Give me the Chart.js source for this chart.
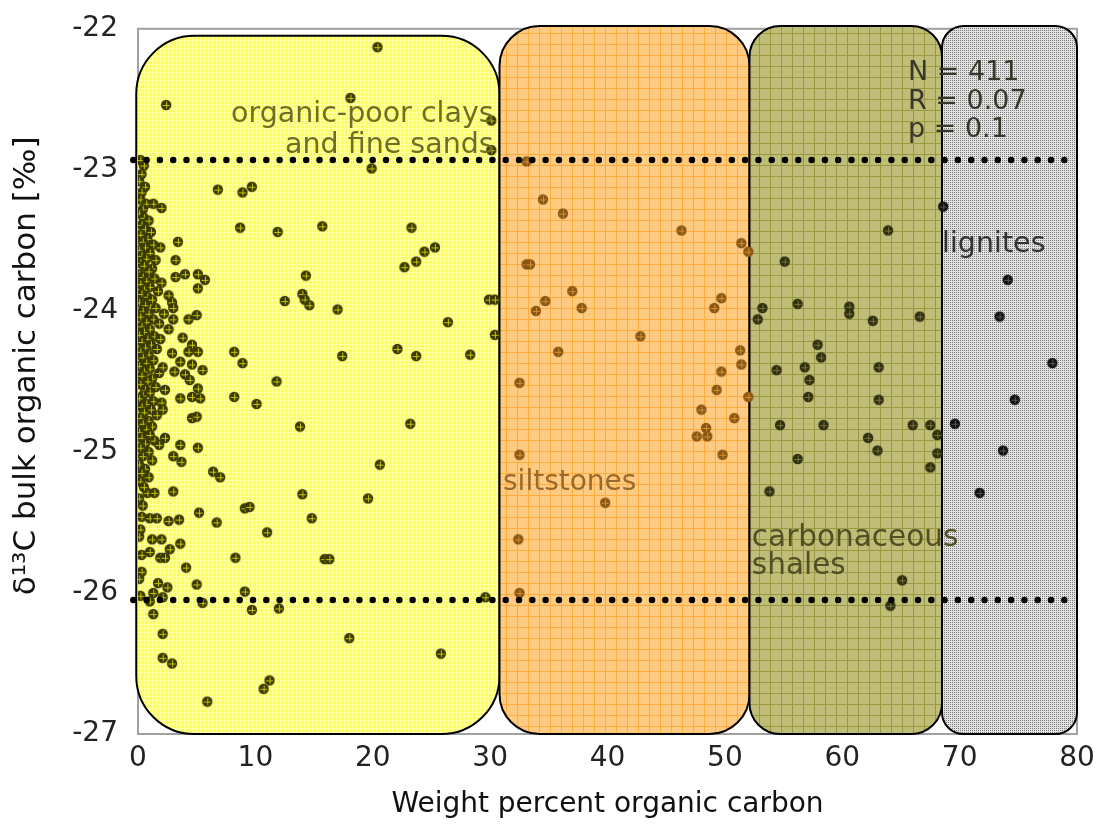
<!DOCTYPE html>
<html>
<head>
<meta charset="utf-8">
<script src="https://cdn.jsdelivr.net/npm/chart.js@4.4.1/dist/chart.umd.min.js"></script>
<style>
html, body { margin: 0; padding: 0; background: #fff; }
#wrap { width: 1105px; height: 825px; }
</style>
</head>
<body>
<div id="wrap"><canvas id="chart"></canvas></div>
<script>
// tick labels
var X_TICKS = [0, 10, 20, 30, 40, 50, 60, 70, 80];
var Y_TICKS = [-27, -26, -25, -24, -23, -22];

// lithology boxes: [xFrom, xTo, yTop]
var BOX_EDGES = [-0.15, 30.8, 52.1, 68.5, 80];
var BOX_TOPS = [-22.05, -21.98, -21.98, -21.98];
var BOX_BOTTOM = -27.0;

// dotted reference lines
var DOT_X = [-0.4, 79.8];
var DOT_Y = [-22.93, -26.05];

// organic-poor clays and fine sands  [wt% C, d13C]
var clays = [
  [20.4,-22.13],[2.4,-22.54],[18.1,-22.49],[30.1,-22.65],[30.1,-22.86],[19.9,-22.99],
  [6.8,-23.14],[8.9,-23.16],[9.7,-23.12],[1.3,-23.24],[2.0,-23.27],
  [8.7,-23.41],[11.9,-23.44],[15.7,-23.40],[23.3,-23.41],
  [25.3,-23.55],[24.4,-23.58],[23.7,-23.65],[22.7,-23.69],
  [3.4,-23.51],[3.2,-23.64],[3.2,-23.76],[4.0,-23.74],[5.1,-23.74],[5.7,-23.78],[5.1,-23.84],
  [14.3,-23.75],[2.6,-23.89],[2.9,-23.94],[3.0,-23.98],
  [12.5,-23.93],[14.0,-23.88],[14.2,-23.92],[14.6,-23.96],[17.0,-23.99],
  [29.9,-23.92],[30.4,-23.92],[26.4,-24.08],[30.4,-24.17],
  [3.0,-24.06],[2.6,-24.13],[4.3,-24.06],[5.0,-24.03],
  [3.8,-24.19],[4.6,-24.24],[5.1,-24.29],[4.3,-24.29],[3.6,-24.36],[4.6,-24.38],[5.5,-24.42],
  [2.9,-24.30],[3.1,-24.43],[4.0,-24.45],[4.4,-24.49],[2.3,-24.56],[5.1,-24.55],[4.6,-24.61],
  [3.6,-24.62],[5.3,-24.62],
  [8.2,-24.29],[8.9,-24.37],[17.4,-24.32],[22.1,-24.27],[23.7,-24.32],[28.3,-24.31],
  [11.8,-24.50],[8.2,-24.61],[10.1,-24.66],[13.8,-24.82],[23.2,-24.80],
  [4.6,-24.76],[5.0,-24.75],[2.3,-24.90],[3.6,-24.95],[5.1,-24.97],
  [3.0,-25.03],[3.7,-25.07],[6.4,-25.14],[7.0,-25.18],[20.6,-25.09],
  [3.0,-25.28],[0.8,-25.29],[1.4,-25.29],[14.0,-25.30],[19.6,-25.33],
  [5.2,-25.43],[9.1,-25.40],[9.5,-25.39],[14.8,-25.47],
  [0.3,-25.46],[1.0,-25.47],[1.6,-25.47],[2.6,-25.49],[3.5,-25.48],[6.7,-25.50],
  [11.0,-25.57],[1.2,-25.62],[2.0,-25.62],[3.6,-25.65],[2.7,-25.69],
  [0.3,-25.73],[1.0,-25.71],[1.9,-25.75],[2.3,-25.75],[8.3,-25.75],[15.9,-25.76],[16.3,-25.76],
  [4.1,-25.82],[1.7,-25.93],[2.5,-25.96],[1.3,-26.00],[5.0,-25.94],[9.1,-25.99],[29.6,-26.03],
  [1.0,-26.06],[2.1,-26.03],[5.5,-26.07],[1.3,-26.15],[9.7,-26.12],[12.0,-26.11],
  [2.1,-26.29],[18.0,-26.32],[25.8,-26.43],[2.1,-26.46],[2.9,-26.50],[11.2,-26.62],
  [10.7,-26.68],[5.9,-26.77],
  // dense column near 0-2 wt%
  [0.2,-22.93],[0.5,-22.97],[0.3,-23.03],[0.1,-23.08],[0.6,-23.12],[0.3,-23.16],[0.2,-23.21],
  [0.7,-23.24],[0.4,-23.28],[0.1,-23.31],[0.5,-23.34],[0.9,-23.36],[0.3,-23.39],[0.6,-23.42],
  [1.1,-23.44],[0.2,-23.46],[0.8,-23.49],[0.4,-23.51],[1.3,-23.53],[0.6,-23.55],[0.1,-23.57],
  [1.0,-23.59],[0.3,-23.61],[0.7,-23.63],[1.5,-23.64],[0.2,-23.66],[0.5,-23.68],[1.2,-23.70],
  [0.9,-23.72],[0.1,-23.74],[0.4,-23.76],[1.4,-23.77],[0.7,-23.79],[0.2,-23.81],[1.0,-23.83],
  [0.5,-23.85],[1.7,-23.86],[0.3,-23.88],[0.8,-23.90],[1.2,-23.92],[0.1,-23.94],[0.6,-23.96],
  [1.5,-23.98],[0.4,-24.00],[0.9,-24.02],[0.2,-24.04],[1.3,-24.06],[0.7,-24.08],[1.8,-24.09],
  [0.3,-24.11],[1.0,-24.13],[0.5,-24.15],[0.1,-24.17],[1.4,-24.18],[0.8,-24.20],[0.3,-24.22],
  [1.1,-24.24],[0.6,-24.26],[1.6,-24.27],[0.2,-24.29],[0.9,-24.31],[0.4,-24.33],[1.3,-24.35],
  [0.7,-24.37],[0.1,-24.39],[1.0,-24.41],[0.5,-24.43],[1.8,-24.44],[0.3,-24.46],[1.2,-24.48],
  [0.8,-24.50],[0.2,-24.52],[1.5,-24.54],[0.6,-24.56],[1.0,-24.58],[0.4,-24.60],[0.1,-24.62],
  [1.3,-24.64],[0.7,-24.66],[0.3,-24.68],[1.1,-24.70],[0.5,-24.72],[1.6,-24.74],[0.2,-24.76],
  [0.9,-24.78],[0.4,-24.80],[1.2,-24.82],[0.7,-24.84],[0.1,-24.86],[1.0,-24.88],[0.3,-24.90],
  [1.4,-24.92],[0.6,-24.94],[0.2,-24.97],[0.9,-25.00],[0.4,-25.03],[1.2,-25.06],[0.1,-25.09],
  [0.6,-25.12],[0.3,-25.15],[0.9,-25.18],[0.2,-25.21],[0.5,-25.25],[0.1,-25.33],[0.4,-25.38],
  [0.2,-25.55],[0.1,-25.60],[0.3,-25.85],[0.1,-25.90],[0.2,-26.02],
  [1.9,-23.55],[2.0,-23.80],[2.2,-24.02],[1.9,-24.20],[2.1,-24.40],[2.0,-24.65],[1.8,-24.95],[2.1,-24.70]
];

// siltstones
var silts = [
  [33.1,-22.94],[34.5,-23.21],[36.2,-23.31],[46.3,-23.43],[51.4,-23.52],[52.0,-23.58],
  [33.1,-23.67],[33.4,-23.67],[37.0,-23.86],[34.7,-23.93],[33.9,-24.00],[37.8,-23.98],
  [49.7,-23.91],[49.1,-23.98],[42.8,-24.18],[35.8,-24.29],[51.3,-24.28],[51.4,-24.38],
  [32.5,-24.51],[49.7,-24.43],[49.3,-24.56],[52.0,-24.61],[48.0,-24.70],[50.8,-24.76],
  [48.4,-24.83],[47.6,-24.89],[48.5,-24.89],[32.5,-25.02],[49.8,-25.02],[39.8,-25.36],
  [32.4,-25.62],[32.5,-26.00]
];

// carbonaceous shales
var shales = [
  [63.9,-23.43],[55.1,-23.65],[53.2,-23.98],[52.8,-24.06],[56.2,-23.95],[60.6,-23.97],
  [60.6,-24.02],[62.6,-24.07],[66.6,-24.04],[57.9,-24.24],[58.2,-24.33],[54.4,-24.42],
  [56.8,-24.40],[57.2,-24.49],[63.1,-24.40],[57.1,-24.61],[63.1,-24.63],[54.7,-24.81],
  [58.4,-24.81],[66.0,-24.81],[67.5,-24.81],[68.1,-24.88],[62.2,-24.90],[63.0,-24.99],
  [68.1,-25.01],[56.2,-25.05],[67.5,-25.11],[53.8,-25.28],[65.1,-25.91],[64.1,-26.09]
];

// lignites
var lignites = [
  [68.6,-23.26],[74.1,-23.78],[73.4,-24.04],[77.9,-24.37],[74.7,-24.63],[69.6,-24.80],
  [73.7,-24.99],[71.7,-25.29]
];

var LABELS = [
  { text: 'organic-poor clays', x: 30.3, y: -22.61, align: 'right', color: '#6f6f22', size: 28.5 },
  { text: 'and fine sands', x: 30.3, y: -22.83, align: 'right', color: '#6f6f22', size: 28.5 },
  { text: 'siltstones', x: 31.1, y: -25.22, align: 'left', color: '#9a6a2c', size: 28 },
  { text: 'carbonaceous', x: 52.3, y: -25.61, align: 'left', color: '#505024', size: 29.5 },
  { text: 'shales', x: 52.3, y: -25.81, align: 'left', color: '#505024', size: 29.5 },
  { text: 'lignites', x: 68.5, y: -23.53, align: 'left', color: '#333333', size: 28.5 },
  { text: 'N = 411', x: 65.6, y: -22.31, align: 'left', color: '#38382a', size: 27 },
  { text: 'R = 0.07', x: 65.6, y: -22.52, align: 'left', color: '#38382a', size: 27 },
  { text: 'p = 0.1', x: 65.6, y: -22.72, align: 'left', color: '#38382a', size: 27 }
];

function toPoints(arr) {
  return arr.map(function(p) { return { x: p[0], y: p[1] }; });
}

function makeMarker(fill, cross) {
  var c = document.createElement('canvas');
  c.width = 12; c.height = 12;
  var g = c.getContext('2d');
  g.fillStyle = fill;
  g.beginPath(); g.arc(6, 6, 5.2, 0, 2 * Math.PI); g.fill();
  g.strokeStyle = cross; g.lineWidth = 1;
  g.beginPath();
  g.moveTo(6.5, 2.5); g.lineTo(6.5, 9.5);
  g.moveTo(2.5, 6.5); g.lineTo(9.5, 6.5);
  g.stroke();
  return c;
}

function makePattern(ctx, size, bg, fg, grid) {
  var c = document.createElement('canvas');
  c.width = size; c.height = size;
  var g = c.getContext('2d');
  g.fillStyle = bg; g.fillRect(0, 0, size, size);
  g.fillStyle = fg;
  if (grid) {
    g.fillRect(0, 0, size, 1);
    g.fillRect(0, 0, 1, size);
  } else {
    g.fillRect(0, 0, 1, 1);
  }
  return ctx.createPattern(c, 'repeat');
}

var lithoPlugin = {
  id: 'litho',
  beforeDatasetsDraw: function(chart) {
    var ctx = chart.ctx, a = chart.chartArea;
    var xs = chart.scales.x, ys = chart.scales.y;
    var fills = [
      makePattern(ctx, 4, '#ffff50', '#ffffa8', true),
      makePattern(ctx, 11, '#ffcb82', '#ffac3c', true),
      makePattern(ctx, 11, '#c0bd78', '#9a9840', true),
      makePattern(ctx, 2, '#e2e2e2', '#7a7a7a', false)
    ];
    ctx.save();
    // frame
    ctx.strokeStyle = '#a0a0a0';
    ctx.lineWidth = 2;
    ctx.strokeRect(a.left, a.top, a.right - a.left, a.bottom - a.top);
    for (var i = 0; i < 4; i++) {
      var l = xs.getPixelForValue(BOX_EDGES[i]);
      var r = xs.getPixelForValue(BOX_EDGES[i + 1]);
      var t = ys.getPixelForValue(BOX_TOPS[i]);
      var b = ys.getPixelForValue(BOX_BOTTOM);
      var rad = (r - l) * 0.16;
      ctx.beginPath();
      ctx.roundRect(l, t, r - l, b - t, rad);
      ctx.fillStyle = fills[i];
      ctx.fill();
      ctx.strokeStyle = '#000';
      ctx.lineWidth = 2;
      ctx.stroke();
    }
    ctx.restore();
  },
  afterDatasetsDraw: function(chart) {
    var ctx = chart.ctx;
    var xs = chart.scales.x, ys = chart.scales.y;
    ctx.save();
    ctx.textBaseline = 'middle';
    LABELS.forEach(function(lb) {
      ctx.font = lb.size + 'px "DejaVu Sans"';
      ctx.fillStyle = lb.color;
      ctx.textAlign = lb.align;
      ctx.fillText(lb.text, xs.getPixelForValue(lb.x), ys.getPixelForValue(lb.y));
    });
    ctx.restore();
  }
};

var dotStyle = {
  showLine: true,
  pointRadius: 0,
  borderColor: '#000',
  borderWidth: 6.5,
  borderDash: [0, 13.3],
  borderCapStyle: 'round',
  clip: false
};

var ctx = document.getElementById('chart');
var chart = new Chart(ctx, {
  type: 'scatter',
  data: {
    datasets: [
      Object.assign({ label: 'upper', data: DOT_X.map(function(x) { return { x: x, y: DOT_Y[0] }; }) }, dotStyle),
      Object.assign({ label: 'lower', data: DOT_X.map(function(x) { return { x: x, y: DOT_Y[1] }; }) }, dotStyle),
      { label: 'lignites', data: toPoints(lignites), pointStyle: makeMarker('#111111', '#555555'), pointRadius: 6 },
      { label: 'shales', data: toPoints(shales), pointStyle: makeMarker('#2e2e10', '#75733a'), pointRadius: 6 },
      { label: 'siltstones', data: toPoints(silts), pointStyle: makeMarker('#8a5614', '#d4902e'), pointRadius: 6 },
      { label: 'clays', data: toPoints(clays), pointStyle: makeMarker('#3a3a00', '#c4c400'), pointRadius: 6 }
    ]
  },
  options: {
    responsive: true,
    maintainAspectRatio: false,
    animation: false,
    layout: { padding: { top: 26, right: 28, left: 0, bottom: 0 } },
    plugins: {
      legend: { display: false },
      tooltip: { enabled: false }
    },
    scales: {
      x: {
        type: 'linear',
        min: 0, max: 80,
        afterFit: function(s) { s.height = 91; },
        afterBuildTicks: function(s) { s.ticks = X_TICKS.map(function(v) { return { value: v }; }); },
        grid: { display: false },
        border: { display: false },
        ticks: { color: '#222', padding: 0, font: { family: 'DejaVu Sans', size: 28 } },
        title: {
          display: true,
          text: 'Weight percent organic carbon',
          color: '#111',
          padding: { top: 0, bottom: 3 },
          font: { family: 'DejaVu Sans', size: 28 }
        }
      },
      y: {
        type: 'linear',
        min: -27, max: -22,
        afterFit: function(s) { s.width = 138; },
        afterBuildTicks: function(s) { s.ticks = Y_TICKS.map(function(v) { return { value: v }; }); },
        grid: { display: false },
        border: { display: false },
        ticks: { color: '#222', padding: 12, font: { family: 'DejaVu Sans', size: 28 } },
        title: {
          display: true,
          text: '\u2002\u2002δ¹³C bulk organic carbon [‰]',
          color: '#111',
          padding: { top: 8, bottom: 0 },
          font: { family: 'DejaVu Sans', size: 31 }
        }
      }
    }
  },
  plugins: [lithoPlugin]
});
</script>
</body>
</html>
